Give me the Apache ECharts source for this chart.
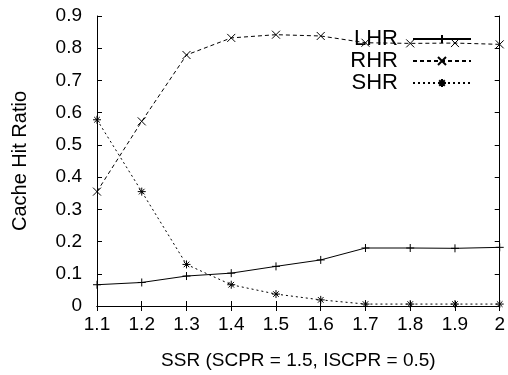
<!DOCTYPE html>
<html><head><meta charset="utf-8">
<script src="https://cdn.jsdelivr.net/npm/echarts@6/dist/echarts.min.js"></script>
<style>html,body{margin:0;padding:0;background:#fff}#c{width:508px;height:375px}</style>
</head><body><div id="c"></div>
<script>
var ssr = [1.1, 1.2, 1.3, 1.4, 1.5, 1.6, 1.7, 1.8, 1.9, 2.0];
var lhr = [0.066, 0.073, 0.093, 0.102, 0.123, 0.143, 0.180, 0.180, 0.179, 0.182];
var rhr = [0.355, 0.573, 0.779, 0.832, 0.842, 0.838, 0.817, 0.815, 0.816, 0.812];
var shr = [0.578, 0.355, 0.129, 0.066, 0.037, 0.019, 0.006, 0.006, 0.006, 0.006];
var seriesNames = ['LHR', 'RHR', 'SHR'];
var xTitle = 'SSR (SCPR = 1.5, ISCPR = 0.5)';
var yTitle = 'Cache Hit Ratio';

function pairs(ys){ return ssr.map(function(x,i){ return [x, ys[i]]; }); }
var FONT = 'Liberation Sans, Arial, sans-serif';
var fmt = function(v){ return String(parseFloat(Number(v).toFixed(1))); };
var plus = 'path://M0,5L10,5M5,0L5,10';
var cross = 'path://M0,0L10,10M10,0L0,10';
var star = 'path://M0,5L10,5M5,0L5,10M1.5,1.5L8.5,8.5M8.5,1.5L1.5,8.5';
function mk(name, ys, sym, dash){
  return {
    name: name, type: 'line', data: pairs(ys), symbol: sym, symbolSize: 8,
    showAllSymbol: true, animation: false,
    lineStyle: { color: '#000', width: 1, type: dash },
    itemStyle: { color: 'none', borderColor: '#000', borderWidth: 1 }
  };
}
var axisCommon = {
  axisLine: { show: true, lineStyle: { color: '#000', width: 1 } },
  axisTick: { show: true, inside: true, length: 5, lineStyle: { color: '#000' } },
  splitLine: { show: false }
};
var chart = echarts.init(document.getElementById('c'), null, { renderer: 'canvas' });
chart.setOption({
  backgroundColor: '#fff',
  animation: false,
  grid: { left: 97, right: 6, top: 16, bottom: 64, containLabel: false },
  legend: {
    data: seriesNames, orient: 'vertical', align: 'right',
    right: 31, top: 23, itemWidth: 58, itemHeight: 10, itemGap: 0,
    textStyle: { fontFamily: FONT, fontSize: 22, color: '#000', lineHeight: 21.5, padding: [0, 10, 0, 0] }
  },
  xAxis: [
    Object.assign({ type: 'value', min: 1.1, max: 2.0, interval: 0.1, position: 'bottom',
      name: xTitle, nameLocation: 'middle', nameGap: 45,
      nameTextStyle: { fontFamily: FONT, fontSize: 19, color: '#000' },
      axisLabel: { fontFamily: FONT, fontSize: 19, color: '#000', margin: 9, formatter: fmt } }, axisCommon),
    Object.assign({ type: 'value', min: 1.1, max: 2.0, interval: 0.1, position: 'top',
      axisLabel: { show: false } }, axisCommon)
  ],
  yAxis: [
    Object.assign({ type: 'value', min: 0, max: 0.9, interval: 0.1, position: 'left',
      name: yTitle, nameLocation: 'middle', nameGap: 67,
      nameTextStyle: { fontFamily: FONT, fontSize: 20, color: '#000' },
      axisLabel: { fontFamily: FONT, fontSize: 19, color: '#000', margin: 15, formatter: fmt } }, axisCommon),
    Object.assign({ type: 'value', min: 0, max: 0.9, interval: 0.1, position: 'right',
      axisLabel: { show: false } }, axisCommon)
  ],
  series: [
    mk('LHR', lhr, plus, 'solid'),
    mk('RHR', rhr, cross, [4, 3]),
    mk('SHR', shr, star, [2, 3])
  ]
});
</script></body></html>
